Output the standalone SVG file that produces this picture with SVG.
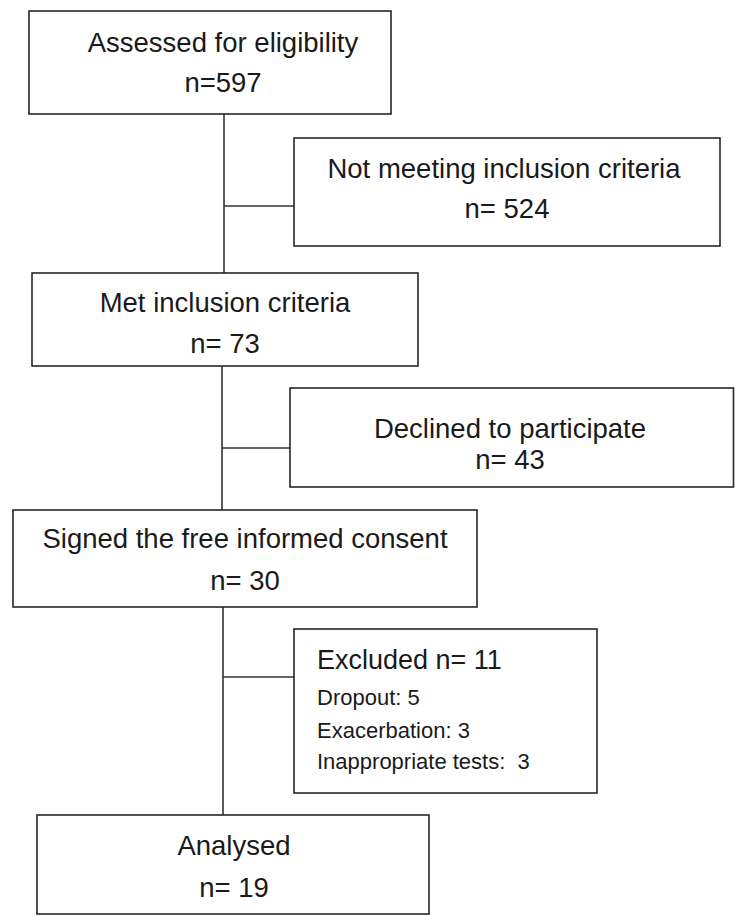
<svg xmlns="http://www.w3.org/2000/svg" width="735" height="916" viewBox="0 0 735 916">
<style>
.box{fill:#fff;stroke:#262626;stroke-width:1.6}
.t{font-family:"Liberation Sans",Arial,sans-serif;font-size:27.5px;fill:#1a1a1a;text-anchor:middle}
.s{font-family:"Liberation Sans",Arial,sans-serif;font-size:22px;fill:#1a1a1a}
.c{stroke:#333;stroke-width:1.6;fill:none}
</style>
<rect width="735" height="916" fill="#fff"/>
<g id="connectors">
<path class="c" d="M224 114V273M224 206H294"/>
<path class="c" d="M222 366V510M222 448H290"/>
<path class="c" d="M223 607V815M223 677H294"/>
</g>
<g id="assessed">
<rect class="box" x="29" y="11" width="362" height="103"/>
<text class="t" x="223" y="52">Assessed for eligibility</text>
<text class="t" x="223" y="92">n=597</text>
</g>
<g id="not-meeting">
<rect class="box" x="294" y="138" width="426" height="108"/>
<text class="t" x="504" y="178">Not meeting inclusion criteria</text>
<text class="t" x="507" y="218">n= 524</text>
</g>
<g id="met">
<rect class="box" x="32" y="273" width="386" height="93"/>
<text class="t" x="225" y="312">Met inclusion criteria</text>
<text class="t" x="225" y="353">n= 73</text>
</g>
<g id="declined">
<rect class="box" x="290" y="388" width="443.5" height="99"/>
<text class="t" x="510" y="438">Declined to participate</text>
<text class="t" x="510" y="469">n= 43</text>
</g>
<g id="signed">
<rect class="box" x="13" y="510" width="464" height="97"/>
<text class="t" x="245" y="548">Signed the free informed consent</text>
<text class="t" x="245" y="590">n= 30</text>
</g>
<g id="excluded">
<rect class="box" x="294" y="629" width="303" height="164"/>
<text class="t" x="317" y="669" style="text-anchor:start;font-size:27px">Excluded n= 11</text>
<text class="s" x="317" y="705">Dropout: 5</text>
<text class="s" x="317" y="738">Exacerbation: 3</text>
<text class="s" x="317" y="769" xml:space="preserve">Inappropriate tests:  3</text>
</g>
<g id="analysed">
<rect class="box" x="37" y="815" width="392" height="99"/>
<text class="t" x="234" y="855">Analysed</text>
<text class="t" x="234" y="897">n= 19</text>
</g>
</svg>
